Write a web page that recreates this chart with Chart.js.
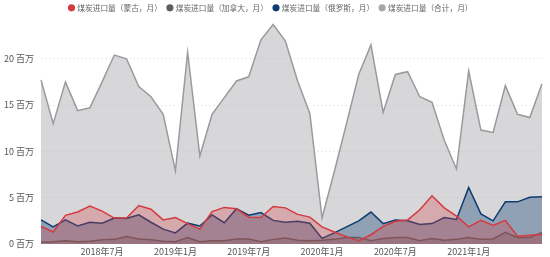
<!DOCTYPE html>
<html>
<head>
<meta charset="utf-8">
<script src="https://cdn.jsdelivr.net/npm/chart.js@4.4.0/dist/chart.umd.min.js"></script>
<style>
  html, body { margin: 0; padding: 0; background: #fff; }
  #wrap { width: 550px; height: 257px; }
</style>
</head>
<body>
<div id="wrap"><canvas id="coalChart" width="550" height="257"></canvas></div>
<script>
// months 2018-02 .. 2021-07
const months = [];
for (let y = 2018, m = 2; y < 2021 || (y === 2021 && m <= 7); m++) {
  if (m > 12) { m = 1; y++; }
  months.push(y + '年' + m + '月');
}
const tickMonths = ['2018年7月', '2019年1月', '2019年7月', '2020年1月', '2020年7月', '2021年1月'];

// values in 百万 (millions)
const mongolia = [1.9, 1.3, 3.1, 3.45, 4.1, 3.55, 2.8, 2.8, 4.15, 3.75, 2.6, 2.85, 2.2, 1.6, 3.5, 3.95, 3.8, 2.9, 2.85, 4.05, 3.9, 3.2, 2.9, 1.85, 1.3, 0.8, 0.35, 1.0, 1.9, 2.45, 2.6, 3.7, 5.2, 3.9, 3.0, 1.85, 2.55, 2.0, 2.55, 0.85, 0.95, 1.05];
const canada   = [0.2, 0.25, 0.35, 0.25, 0.3, 0.45, 0.5, 0.8, 0.55, 0.45, 0.3, 0.25, 0.7, 0.25, 0.35, 0.35, 0.55, 0.55, 0.25, 0.5, 0.65, 0.4, 0.35, 0.4, 0.5, 0.7, 0.7, 0.35, 0.6, 0.7, 0.7, 0.35, 0.6, 0.4, 0.5, 0.7, 0.5, 0.55, 1.25, 0.7, 0.7, 1.25];
const russia   = [2.6, 1.85, 2.6, 1.95, 2.35, 2.25, 2.8, 2.75, 3.15, 2.35, 1.6, 1.2, 2.25, 1.95, 3.15, 2.3, 3.8, 3.1, 3.4, 2.55, 2.35, 2.45, 2.25, 0.6, 1.2, 1.85, 2.5, 3.45, 2.2, 2.6, 2.5, 2.1, 2.2, 2.85, 2.65, 6.1, 3.25, 2.5, 4.55, 4.55, 5.05, 5.1];
const total    = [17.7, 13.0, 17.5, 14.4, 14.7, 17.5, 20.4, 20.0, 17.0, 15.9, 14.0, 7.9, 20.7, 9.5, 14.0, 15.8, 17.6, 18.05, 22.05, 23.7, 21.9, 17.6, 14.1, 2.8, 7.8, 13.0, 18.3, 21.5, 14.2, 18.3, 18.6, 15.9, 15.3, 11.2, 8.1, 18.7, 12.3, 12.05, 17.1, 14.0, 13.65, 17.3];

const FONT = "'Noto Sans CJK SC', 'Noto Sans', sans-serif";

function series(label, data, line, fill, dot) {
  return {
    label, data,
    borderColor: line,
    backgroundColor: fill,
    pointBackgroundColor: dot,
    pointBorderColor: dot,
    borderWidth: 1.5,
    fill: 'origin',
    tension: 0,
    pointRadius: 0,
    pointHoverRadius: 0,
  };
}

new Chart(document.getElementById('coalChart').getContext('2d'), {
  type: 'line',
  data: {
    labels: months,
    datasets: [
      series('煤炭进口量（蒙古，月）', mongolia, '#d43a3f', 'rgba(210,60,65,0.3)', '#d43a3f'),
      series('煤炭进口量（加拿大，月）', canada, '#5e5e62', 'rgba(90,90,95,0.3)', '#5e5e62'),
      series('煤炭进口量（俄罗斯，月）', russia, '#0e3c70', 'rgba(15,60,112,0.35)', '#0e3c70'),
      series('煤炭进口量（合计，月）', total, '#9a9a9c', 'rgba(188,188,194,0.6)', '#a6a6a8'),
    ],
  },
  options: {
    animation: false,
    responsive: false,
    devicePixelRatio: 1,
    layout: { padding: { left: 0, right: 8, top: -2, bottom: 0 } },
    plugins: {
      legend: {
        position: 'top',
        labels: {
          usePointStyle: true,
          pointStyle: 'circle',
          boxWidth: 4,
          boxHeight: 4,
          padding: 6,
          color: '#666',
          font: { family: FONT, size: 7.7 },
        },
      },
      tooltip: { enabled: false },
    },
    scales: {
      x: {
        offset: false,
        grid: { display: false, drawTicks: false },
        border: { display: false },
        afterFit: (s) => { s.height = 13; },
        ticks: {
          autoSkip: false,
          maxRotation: 0,
          padding: 2,
          color: '#555',
          font: { family: FONT, size: 9 },
          callback: function (v) {
            const l = this.getLabelForValue(v);
            return tickMonths.includes(l) ? l : '';
          },
        },
      },
      y: {
        min: 0,
        max: 24,
        afterFit: (s) => { s.width = 41; },
        afterBuildTicks: (s) => { s.ticks = [0, 5, 10, 15, 20].map(v => ({ value: v })); },
        border: { display: false, dash: [2, 2] },
        grid: {
          drawTicks: false,
          color: (c) => c.tick && c.tick.value === 0 ? 'rgba(0,0,0,0)' : 'rgba(0,0,0,0.08)',
          lineWidth: 1,
        },
        ticks: {
          padding: 7,
          color: '#555',
          font: { family: FONT, size: 9 },
          callback: (v) => v + ' 百万',
        },
      },
    },
  },
});
</script>
</body>
</html>
